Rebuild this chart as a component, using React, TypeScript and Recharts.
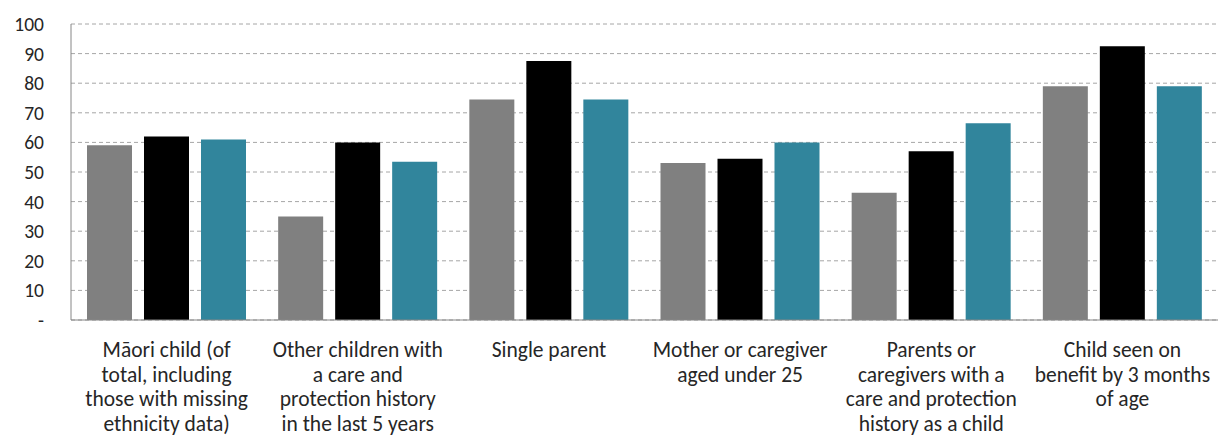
import React from 'react';
import { BarChart, Bar, XAxis, YAxis, CartesianGrid } from 'recharts';

// Category labels, one string per line of the wrapped axis label
const categoryLines: string[][] = [
  ['Māori child (of', 'total, including', 'those with missing', 'ethnicity data)'],
  ['Other children with', 'a care and', 'protection history', 'in the last 5 years'],
  ['Single parent'],
  ['Mother or caregiver', 'aged under 25'],
  ['Parents or', 'caregivers with a', 'care and protection', 'history as a child'],
  ['Child seen on', 'benefit by 3 months', 'of age'],
];

// Three series, in draw order (grey, black, teal)
const seriesGrey = [59, 35, 74.5, 53, 43, 79];
const seriesBlack = [62, 60, 87.5, 54.5, 57, 92.5];
const seriesTeal = [61, 53.5, 74.5, 60, 66.5, 79];

const yTicks = [0, 10, 20, 30, 40, 50, 60, 70, 80, 90, 100];

const data = categoryLines.map((lines, i) => ({
  key: String(i),
  grey: seriesGrey[i],
  black: seriesBlack[i],
  teal: seriesTeal[i],
}));

const FONT = 'Carlito, Calibri, Lato, "Open Sans", sans-serif';

const CategoryTick = (props: any) => {
  const { x, y, payload } = props;
  const lines = categoryLines[Number(payload.value)] || [];
  return (
    <g transform={`translate(${x},${y})`}>
      <text textAnchor="middle" fill="#262626" fontFamily={FONT} fontSize={21.5}>
        {lines.map((line, i) => (
          <tspan key={i} x={0} dy={i === 0 ? 29 : 24.5}>
            {line}
          </tspan>
        ))}
      </text>
    </g>
  );
};

const ValueTick = (props: any) => {
  const { x, y, payload } = props;
  const label = payload.value === 0 ? '-' : String(payload.value);
  return (
    <text
      x={x}
      y={y}
      dy={7}
      textAnchor="end"
      fill="#262626"
      fontFamily={FONT}
      fontSize={19.5}
    >
      {label}
    </text>
  );
};

export default function App() {
  return (
    <div style={{ position: 'absolute', left: 0, top: 0, background: '#fff' }}>
      <BarChart
        width={1229}
        height={444}
        data={data}
        margin={{ top: 24, right: 11, bottom: 0, left: 0 }}
        barCategoryGap={16}
        barGap={12}
      >
        <CartesianGrid
          vertical={false}
          stroke="#a6a6a6"
          strokeDasharray="4 3"
        />
        <XAxis
          dataKey="key"
          height={124}
          interval={0}
          tick={<CategoryTick />}
          tickLine={false}
          axisLine={{ stroke: '#868686', strokeWidth: 1 }}
        />
        <YAxis
          width={71}
          domain={[0, 100]}
          ticks={yTicks}
          interval={0}
          tick={<ValueTick />}
          tickLine={false}
          tickSize={0}
          tickMargin={27}
          axisLine={{ stroke: '#868686', strokeWidth: 1 }}
        />
        <Bar dataKey="grey" fill="#808080" isAnimationActive={false} />
        <Bar dataKey="black" fill="#000000" isAnimationActive={false} />
        <Bar dataKey="teal" fill="#31859c" isAnimationActive={false} />
      </BarChart>
    </div>
  );
}
